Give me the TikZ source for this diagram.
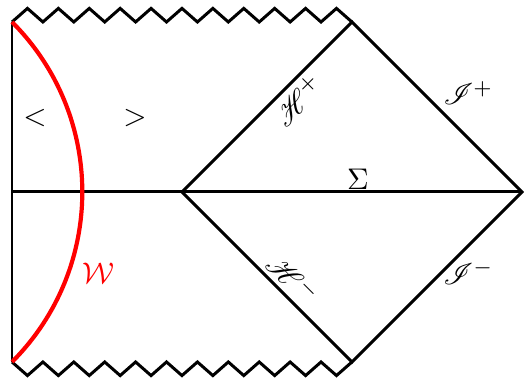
\documentclass[tikz,border=0pt]{standalone}
\usepackage{amsmath,amssymb,mathrsfs}
\usepackage{xcolor}
\usetikzlibrary{positioning,calc}

\begin{document}
\begin{tikzpicture}[x=2cm,y=2cm,line width=1pt]
\useasboundingbox (-0.0706,-1.1) rectangle (3.012,1.1294);
\coordinate(tl) at (0,1); \coordinate(bl) at (0,-1); \coordinate(ml) at (0,0);
\coordinate(tr) at (2,1); \coordinate(br) at (2,-1);
\coordinate(mid) at (1,0); \coordinate(io) at (3,0);
\draw(tl)--(bl); \draw(ml)--(io);
\draw(mid)--(tr)--(io)--(br)--cycle;
% singularities
\draw(tl) \foreach \i in {1,...,11}{ -- ++(1/11,0.08) -- ++(1/11,-0.08)};
\draw(bl) \foreach \i in {1,...,11}{ -- ++(1/11,-0.08) -- ++(1/11,0.08)};
\draw[red,line width=1.4pt](tl) to[out=-45,in=45] (bl);
\node(lt) at (0.135,0.435){$<$};
\node(gt) at (0.724,0.435){$>$};
\node(sig) at (2.035,0.076){$\Sigma$};
\node[rotate=45](hp) at (1.682,0.541){$\mathscr{H}^+$};
\node[rotate=-45](hm) at (1.653,-0.512){$\mathscr{H}^-$};
\node(sp) at (2.685,0.582){$\mathscr{I}^+$};
\node(sm) at (2.685,-0.476){$\mathscr{I}^-$};
\node[red](w) at (0.506,-0.476){$\mathcal{W}$};
\end{tikzpicture}
\end{document}
